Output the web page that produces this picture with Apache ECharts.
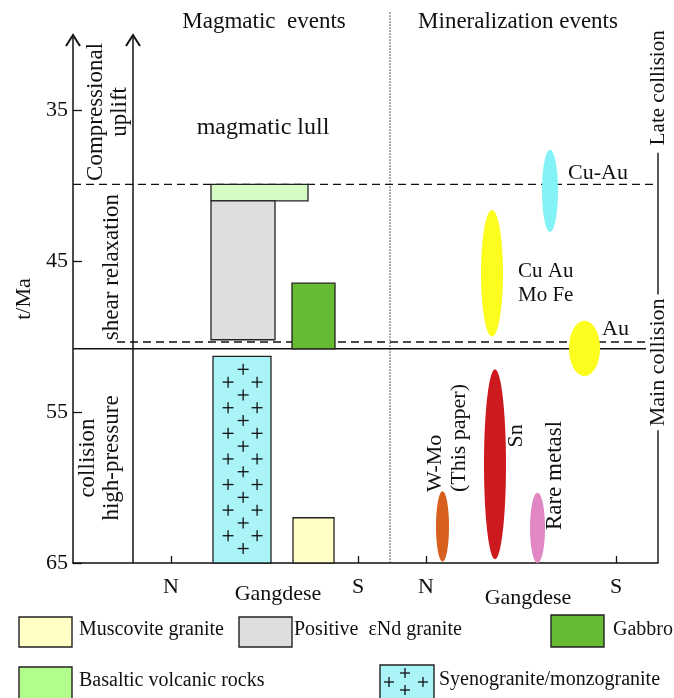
<!DOCTYPE html>
<html><head><meta charset="utf-8">
<script src="https://cdn.jsdelivr.net/npm/echarts@6/dist/echarts.min.js"></script>
<style>html,body{margin:0;padding:0;background:#fff}#c{width:674px;height:698px}</style>
</head><body><div id="c"></div>
<script>
const FONT = '"Liberation Serif", "Times New Roman", serif';

// ---- axes / tick labels ----
const ageTicks = [35, 45, 55, 65];
const sideTickPos = [98, 285, 353, 543];
const sideTickLabels = ['N', 'S', 'N', 'S'];
const beltNames = ['Gangdese', 'Gangdese'];
const beltX = [205, 455];
const beltY = [67.05, 67.35];

// ---- magmatic events (x extent in belt units, ages in Ma) ----
const rockNames = ['Basaltic volcanic rocks', 'Positive εNd granite', 'Gabbro', 'Syenogranite/monzogranite', 'Muscovite granite'];
const rockX0 = [138, 138, 219, 140, 220];
const rockX1 = [235, 202, 262, 198, 261];
const rockAgeYoung = [39.9, 41.0, 46.45, 51.3, 62.0];
const rockAgeOld = [41.0, 50.2, 50.8, 65.0, 65.0];

// ---- mineralization events ----
const oreNames = ['Cu-Au', 'Cu Au Mo Fe', 'Au', 'Sn', 'W-Mo', 'Rare metals'];
const oreX0 = [469, 408, 496, 411, 363, 457];
const oreX1 = [485, 430, 527, 433, 376, 472];
const oreAgeYoung = [37.6, 41.6, 48.95, 52.15, 60.25, 60.35];
const oreAgeOld = [43.05, 50.0, 52.6, 64.75, 64.9, 65.0];

// ---- boundaries ----
const boundaryAge = [39.9, 50.35, 50.8];
const boundaryStartX = [0, 44, 0];
const boundaryEndX = [585, 585, 585];

// ---- text annotations ----
const annoTexts = ['Magmatic  events', 'Mineralization events', 'magmatic lull',
  'Compressional\nuplift', 'shear relaxation', 'collision\nhigh-pressure',
  'Late collision', 'Main collision', 'Cu-Au', 'Cu Au\nMo Fe', 'Au',
  'W-Mo\n(This paper)', 'Sn', 'Rare metasl'];
const annoX = [191, 445, 190, 35, 39, 27, 585, 585, 495, 445, 529, 374, 443, 482];
const annoY = [29.14, 29.14, 36.16, 35.1, 45.38, 58.04, 33.5, 51.7, 39.15, 46.44, 49.5, 60.3, 56.58, 59.2];

// style tables (not data)
const rockFill = ['#d4fcc4', '#dedede', '#66bb33', '#aaf4f7', '#ffffc6'];
const oreFill = ['#83f3f7', '#fcfc1e', '#fcfc1e', '#cc1a1e', '#d8601e', '#e087c4'];
const boundaryDash = [[8, 5], [8, 5], null];
const annoRot = [0, 0, 0, 1, 1, 1, 1, 1, 0, 0, 0, 1, 1, 1];
const annoSize = [23, 23, 24, 23, 23, 23, 21, 22, 22, 21, 22, 22, 22, 23];
const annoAlign = ['center', 'center', 'center', 'center', 'center', 'center', 'center', 'center', 'left', 'left', 'left', 'left', 'center', 'center'];

function plusShapes(cx, cy, r, w) {
  return [
    {type: 'line', shape: {x1: cx - r, y1: cy, x2: cx + r, y2: cy}, style: {stroke: '#111', lineWidth: w}},
    {type: 'line', shape: {x1: cx, y1: cy - r, x2: cx, y2: cy + r}, style: {stroke: '#111', lineWidth: w}}
  ];
}

const chart = echarts.init(document.getElementById('c'));

const option = {
  backgroundColor: '#fff',
  animation: false,
  grid: {left: 73, top: 35, right: 16, bottom: 135},
  xAxis: {
    type: 'value', min: 0, max: 585,
    splitLine: {show: false},
    axisLine: {show: true, onZero: false, lineStyle: {color: '#111', width: 1.5}},
    axisTick: {show: true, inside: true, length: 7, customValues: sideTickPos, lineStyle: {color: '#111', width: 1.3}},
    axisLabel: {
      show: true, customValues: sideTickPos, margin: 13,
      fontFamily: FONT, fontSize: 22, color: '#111',
      formatter: function (v) {
        let best = 0, d = 1e9;
        sideTickPos.forEach((p, i) => { if (Math.abs(p - v) < d) { d = Math.abs(p - v); best = i; } });
        return sideTickLabels[best];
      }
    }
  },
  yAxis: {
    type: 'value', inverse: true, min: 30, max: 65, interval: 5,
    name: 't/Ma', nameLocation: 'middle', nameRotate: 90, nameGap: 30,
    nameTextStyle: {fontFamily: FONT, fontSize: 22, color: '#111'},
    splitLine: {show: false},
    axisLine: {show: true, lineStyle: {color: '#111', width: 1.5}},
    axisTick: {show: true, inside: true, length: 9, customValues: ageTicks, lineStyle: {color: '#111', width: 1.3}},
    axisLabel: {show: true, customValues: ageTicks, margin: 5, fontFamily: FONT, fontSize: 22, color: '#111'}
  },
  series: [
    // frame: inner axis with arrows + dotted divider + right period line
    {
      type: 'custom', name: 'frame', silent: true,
      data: [[0], [60]],
      renderItem: function (params, api) {
        const x = api.value(0);
        const top = api.coord([x, 30]);
        const bot = api.coord([x, 65]);
        const children = [];
        if (params.dataIndex === 1) {
          children.push({type: 'line', shape: {x1: bot[0], y1: bot[1], x2: top[0], y2: top[1]}, style: {stroke: '#111', lineWidth: 1.5}});
          const d0 = api.coord([317, 28.5]);
          const d1 = api.coord([317, 65]);
          children.push({type: 'line', shape: {x1: d0[0], y1: d0[1], x2: d1[0], y2: d1[1]}, style: {stroke: '#222', lineWidth: 1, lineDash: [1.5, 1.5]}});
          const r0 = api.coord([585, 37.8]);
          const r1 = api.coord([585, 65]);
          children.push({type: 'line', shape: {x1: r0[0], y1: r0[1], x2: r1[0], y2: r1[1]}, style: {stroke: '#111', lineWidth: 1.4}});
        }
        children.push({type: 'polyline', shape: {points: [[top[0] - 7, top[1] + 11], [top[0], top[1]], [top[0] + 7, top[1] + 11]]}, style: {stroke: '#111', lineWidth: 2, fill: null}});
        return {type: 'group', children: children};
      }
    },
    // boundaries
    {
      type: 'custom', name: 'boundaries', silent: true,
      data: boundaryAge.map((a, i) => [boundaryStartX[i], boundaryEndX[i], a]),
      renderItem: function (params, api) {
        const p0 = api.coord([api.value(0), api.value(2)]);
        const p1 = api.coord([api.value(1), api.value(2)]);
        return {type: 'line', shape: {x1: p0[0], y1: p0[1], x2: p1[0], y2: p1[1]},
          style: {stroke: '#111', lineWidth: 1.4, lineDash: boundaryDash[params.dataIndex]}};
      }
    },
    // magmatic bars
    {
      type: 'custom', name: 'magmatic',
      encode: {x: [0, 1], y: [2, 3]},
      data: rockNames.map((n, i) => [rockX0[i], rockX1[i], rockAgeYoung[i], rockAgeOld[i]]),
      renderItem: function (params, api) {
        const i = params.dataIndex;
        const p0 = api.coord([api.value(0), api.value(2)]);
        const p1 = api.coord([api.value(1), api.value(3)]);
        const rect = {type: 'rect', shape: {x: p0[0], y: p0[1], width: p1[0] - p0[0], height: p1[1] - p0[1]},
          style: {fill: rockFill[i], stroke: '#222', lineWidth: 1.3}};
        if (i !== 3) return rect;
        const children = [rect];
        const w = p1[0] - p0[0];
        const cols = [0.26, 0.52, 0.76];
        for (let k = 0; ; k++) {
          const y = p0[1] + 13 + k * 12.8;
          if (y > p1[1] - 8) break;
          if (k % 2 === 0) children.push(...plusShapes(p0[0] + w * cols[1], y, 5.5, 1.3));
          else {
            children.push(...plusShapes(p0[0] + w * cols[0], y, 5.5, 1.3));
            children.push(...plusShapes(p0[0] + w * cols[2], y, 5.5, 1.3));
          }
        }
        return {type: 'group', children: children};
      }
    },
    // mineralization ellipses
    {
      type: 'custom', name: 'mineralization',
      encode: {x: [0, 1], y: [2, 3]},
      data: oreNames.map((n, i) => [oreX0[i], oreX1[i], oreAgeYoung[i], oreAgeOld[i]]),
      renderItem: function (params, api) {
        const p0 = api.coord([api.value(0), api.value(2)]);
        const p1 = api.coord([api.value(1), api.value(3)]);
        return {type: 'ellipse', shape: {cx: (p0[0] + p1[0]) / 2, cy: (p0[1] + p1[1]) / 2, rx: (p1[0] - p0[0]) / 2, ry: (p1[1] - p0[1]) / 2},
          style: {fill: oreFill[params.dataIndex]}};
      }
    },
    // annotations
    {
      type: 'custom', name: 'annotations', silent: true, z: 5,
      data: annoTexts.map((t, i) => [annoX[i], annoY[i]]),
      renderItem: function (params, api) {
        const i = params.dataIndex;
        const p = api.coord([api.value(0), api.value(1)]);
        const style = {text: annoTexts[i], font: annoSize[i] + 'px ' + FONT, fill: '#111',
          align: annoAlign[i], verticalAlign: 'middle', lineHeight: 24};
        if (i === 7 || i === 6) { style.backgroundColor = '#fff'; style.padding = [0, 4]; }
        return {type: 'text', x: p[0], y: p[1], rotation: annoRot[i] ? Math.PI / 2 : 0, style: style};
      }
    },
    // belt labels
    {
      type: 'custom', name: 'belts', silent: true,
      data: beltNames.map((n, i) => [beltX[i], beltY[i]]),
      renderItem: function (params, api) {
        const p = api.coord([api.value(0), api.value(1)]);
        return {type: 'text', x: p[0], y: p[1],
          style: {text: beltNames[params.dataIndex], font: '22px ' + FONT, fill: '#111', align: 'center', verticalAlign: 'middle'}};
      }
    }
  ],
  graphic: (function () {
    const els = [];
    const T = (x, y, t) => ({type: 'text', left: x, top: y - 12, style: {text: t, font: '20px ' + FONT, fill: '#111'}});
    const R = (x, y, w, h, c) => ({type: 'rect', shape: {x: x, y: y, width: w, height: h}, style: {fill: c, stroke: '#222', lineWidth: 1.4}});
    els.push(R(19, 617, 53, 30, '#ffffc6'), T(79, 632, 'Muscovite granite'));
    els.push(R(239, 617, 53, 30, '#dedede'), T(294, 632, 'Positive  εNd granite'));
    els.push(R(551, 615, 53, 32, '#66bb33'), T(613, 632, 'Gabbro'));
    els.push(R(19, 667, 53, 33, '#b2ff8e'), T(79, 683, 'Basaltic volcanic rocks'));
    els.push(R(380, 665, 54, 35, '#aaf4f7'), T(439, 682, 'Syenogranite/monzogranite'));
    const pl = [[405, 673], [389, 682], [423, 682], [405, 690]];
    pl.forEach(p => plusShapes(p[0], p[1], 5, 1.3).forEach(s => els.push(s)));
    return els;
  })()
};
chart.setOption(option);
</script>
</body></html>
